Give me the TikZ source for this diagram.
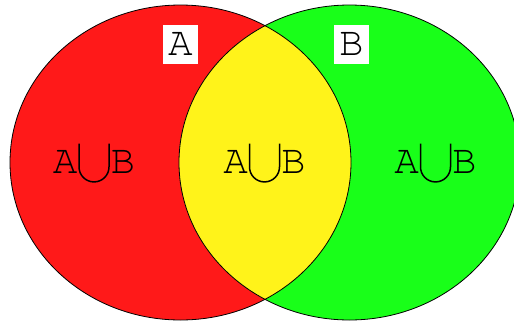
\documentclass[tikz,border=0pt]{standalone}
\usepackage{graphicx}
\newcommand{\courierfam}{\fontencoding{T1}\fontfamily{pcr}\fontseries{m}\fontshape{n}\fontsize{41}{49}\selectfont}
\newsavebox{\cupbox}
\begin{document}
\sbox{\cupbox}{\begin{pgfpicture}%
  \pgfpathrectangle{\pgfpoint{0pt}{-10pt}}{\pgfpoint{33pt}{40pt}}%
  \pgfusepath{discard}%
  \pgfsetlinewidth{1.5pt}%
  \pgfpathmoveto{\pgfpoint{1.5pt}{29.5pt}}%
  \pgfpathlineto{\pgfpoint{1.5pt}{6.2pt}}%
  \pgfpatharc{180}{360}{15pt}%
  \pgfpathlineto{\pgfpoint{31.5pt}{29.5pt}}%
  \pgfusepath{stroke}%
  \pgfsetbaseline{0pt}%
\end{pgfpicture}}%
\begin{tikzpicture}[x=1pt,y=-1pt,
  setout/.style={draw=black,line width=0.8pt},
  labelbox/.style={fill=white,inner sep=0pt,minimum width=35pt,minimum height=39pt,font=\courierfam},
  unionlabel/.style={inner sep=0pt,font=\courierfam}]
\useasboundingbox (0,0) rectangle (514,322);
\clip (0,0) rectangle (514,322);
\fill[red!90] (180.5,162.5) ellipse [x radius=170.5, y radius=157.5];
\fill[green!90] (349.5,162.5) ellipse [x radius=170.5, y radius=157.5];
\begin{scope}
  \clip (180.5,162.5) ellipse [x radius=170.5, y radius=157.5];
  \fill[yellow!90] (349.5,162.5) ellipse [x radius=170.5, y radius=157.5];
\end{scope}
\draw[setout] (180.5,162.5) ellipse [x radius=170.5, y radius=157.5];
\draw[setout] (349.5,162.5) ellipse [x radius=170.5, y radius=157.5];
\node[labelbox] (la) at (180.5,44.5) {A};
\node[labelbox] (lb) at (351.5,44.5) {B};
\node[unionlabel] (u1) at (94,163) {A\usebox{\cupbox}B};
\node[unionlabel] (u2) at (264.5,163) {A\usebox{\cupbox}B};
\node[unionlabel] (u3) at (435.5,163) {A\usebox{\cupbox}B};
\end{tikzpicture}
\end{document}
